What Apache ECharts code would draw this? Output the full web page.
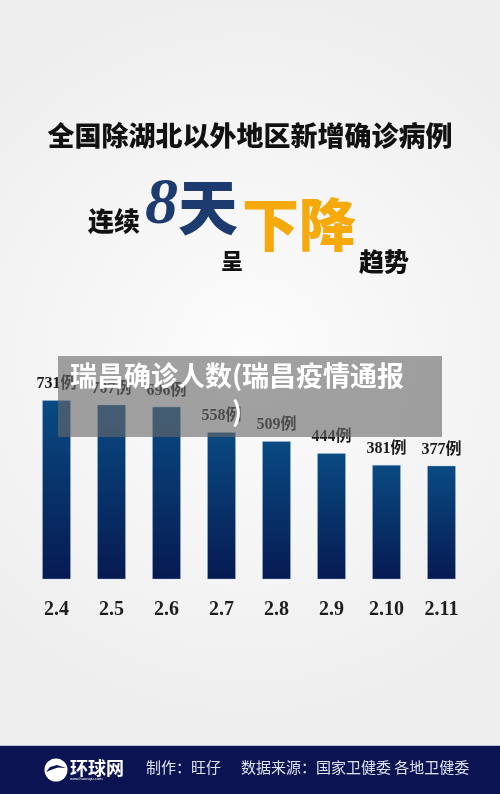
<!DOCTYPE html>
<html><head><meta charset="utf-8">
<script src="https://cdn.jsdelivr.net/npm/echarts@6/dist/echarts.min.js"></script>
<style>html,body{margin:0;padding:0;}#c{width:500px;height:794px;}</style>
</head><body><div id="c"></div>
<script>
const categories = ['2.4','2.5','2.6','2.7','2.8','2.9','2.10','2.11'];
const values = [731, 707, 696, 558, 509, 444, 381, 377];
const unit = '例';
const titleText = '全国除湖北以外地区新增确诊病例';
const footerMaker = '制作：旺仔';
const footerSource = '数据来源：国家卫健委 各地卫健委';
const overlayText = '瑞昌确诊人数(瑞昌疫情通报)';

const Y_MIN = -235, Y_MAX = 1265;
const CJK = '"Noto Sans CJK SC", sans-serif';
const SERIF = '"Liberation Serif", "DejaVu Serif", "Noto Sans CJK SC", serif';

const chart = echarts.init(document.getElementById('c'), null, {renderer:'canvas'});
const barGrad = new echarts.graphic.LinearGradient(0, 0, 0, 1, [
  {offset:0, color:'#0a4a82'},
  {offset:1, color:'#071a52'}
]);

chart.setOption({
  animation:false,
  backgroundColor: new echarts.graphic.RadialGradient(0.5, 0.45, 0.75, [
    {offset:0, color:'#fcfcfc'},
    {offset:1, color:'#eeeeee'}
  ]),
  grid:{left:29, width:440, top:302, bottom:215},
  xAxis:{type:'category', data:categories,
    axisLine:{show:false}, axisTick:{show:false}, splitLine:{show:false},
    axisLabel:{margin:21, fontFamily:SERIF, fontWeight:'bold', fontSize:20, color:'#1e1e1e'}},
  yAxis:{type:'value', min:Y_MIN, max:Y_MAX, show:false, splitLine:{show:false}},
  series:[{
    type:'custom',
    data: values.map((v,i)=>[i,v]),
    encode:{x:0, y:1},
    renderItem(params, api){
      const top = api.coord([api.value(0), api.value(1)]);
      const bot = api.coord([api.value(0), Y_MIN]);
      const w = 28;
      return {
        type:'rect',
        shape:{x: top[0]-w/2, y: top[1], width:w, height: bot[1]-top[1]},
        style:{fill: barGrad, stroke:'rgba(170,195,230,0.6)', lineWidth:0.6},
        textContent:{style:{text: api.value(1)+unit, font:'bold 16px '+SERIF, fill:'#1a1a1a'}},
        textConfig:{position:'top', distance:8}
      };
    }
  }],
  graphic:[
    {type:'text', x:250, y:122, style:{text:titleText, font:'900 27px '+CJK, fill:'#111', align:'center'}},
    {type:'text', x:88, y:208, style:{text:'连续', font:'900 26px '+CJK, fill:'#111'}},
    {type:'text', x:145, y:173, style:{text:'8', font:'italic bold 66px '+SERIF, fill:'#1d3b6e'}},
    {type:'text', x:178, y:177, style:{text:'天', font:'900 60px '+CJK, fill:'#1d3b6e'}},
    {type:'text', x:221, y:250, style:{text:'呈', font:'900 22px '+CJK, fill:'#111'}},
    {type:'text', x:242, y:196, style:{text:'下降', font:'900 57px '+CJK, fill:'#f5a90a'}},
    {type:'text', x:359, y:249, style:{text:'趋势', font:'900 25px '+CJK, fill:'#111'}},
    {type:'rect', shape:{x:58, y:356, width:384, height:81}, style:{fill:'rgba(105,105,105,0.62)'}, z:100},
    {type:'text', x:237, y:358, z:101, style:{text:overlayText, width:338, overflow:'break', lineHeight:36,
      align:'center', font:'bold 27px '+CJK, fill:'#ffffff'}},
    {type:'rect', shape:{x:0, y:746, width:500, height:48}, style:{fill:'#0b1352'}},
    {type:'rect', shape:{x:0, y:745, width:500, height:1}, style:{fill:'#b9c2dc'}},
    {type:'circle', shape:{cx:56, cy:770, r:11.5}, style:{fill:'#ffffff'}},
    {type:'polygon', shape:{points:[[46,772],[50,767],[57,765],[66,768],[58,767.5],[52,769.5]]}, style:{fill:'#0b1352'}},
    {type:'text', x:70, y:759, style:{text:'环球网', font:'bold 18px '+CJK, fill:'#ffffff'}},
    {type:'text', x:70, y:777, style:{text:'www.huanqiu.com', font:'4px sans-serif', fill:'#ffffff'}},
    {type:'text', x:146, y:760, style:{text:footerMaker, font:'15px '+CJK, fill:'#dfe3f0'}},
    {type:'text', x:241, y:760, style:{text:footerSource, font:'15px '+CJK, fill:'#dfe3f0'}}
  ]
});
</script></body></html>
